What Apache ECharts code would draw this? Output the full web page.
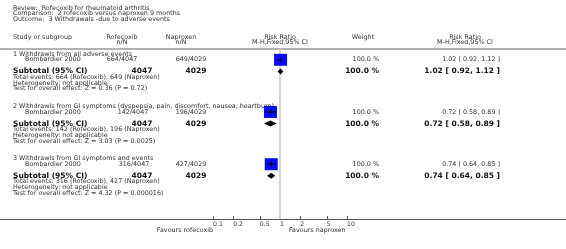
<!DOCTYPE html>
<html>
<head>
<meta charset="utf-8">
<script src="https://cdn.jsdelivr.net/npm/echarts@6/dist/echarts.min.js"></script>
<style>
html, body { margin: 0; padding: 0; background: #fff; }
#chart { width: 566px; height: 249px; }
</style>
</head>
<body>
<div id="chart"></div>
<script>
// data
const titleLines = [
    'Review:  Rofecoxib for rheumatoid arthritis',
    'Comparison:  2 rofecoxib versus naproxen 9 months',
    'Outcome:  3 Withdrawals -due to adverse events'
];
const subgroupNames = [
    '1 Withdrawls from all adverse events',
    '2 Withdrawls from GI symptoms (dyspepsia, pain, discomfort, nausea, heartburn)',
    '3 Withdrawls from GI symptoms and events'
];
const studyNames = ['Bombardier 2000', 'Bombardier 2000', 'Bombardier 2000'];
const rofEvents = [664, 142, 316];
const rofTotals = [4047, 4047, 4047];
const napEvents = [649, 196, 427];
const napTotals = [4029, 4029, 4029];
const riskRatio = [1.02, 0.72, 0.74];
const ciLow = [0.92, 0.58, 0.64];
const ciHigh = [1.12, 0.89, 0.85];
const weights = [100.0, 100.0, 100.0];
const zStats = ['0.36', '3.03', '4.32'];
const pValues = ['0.72', '0.0025', '0.000016'];
const tickValues = [0.1, 0.2, 0.5, 1, 2, 5, 10];
const sectionRows = [0, 9, 18];

const FONT = '"DejaVu Sans", Verdana, sans-serif';
// column layout (px)
const COL = {
    left: 13, study: 25,
    rofStudy: [122, 133, 134], napStudy: 191,
    rofSub: 142, napSub: 196,
    rofHead: 122, napHead: 181, plotHead: 280, weightHead: 363, rrHead: 465,
    weightRight: 379, rrRight: 500
};

const chart = echarts.init(document.getElementById('chart'));

const forestData = riskRatio.map((rr, i) => [
    Math.log10(rr), Math.log10(ciLow[i]), Math.log10(ciHigh[i]),
    sectionRows[i] + 1, sectionRows[i] + 3
]);

chart.setOption({
    animation: false,
    backgroundColor: '#fff',
    grid: { left: 213, width: 134, top: 49, height: 170 },
    xAxis: {
        type: 'value',
        position: 'bottom',
        min: -1,
        max: 1,
        axisLine: { show: true, onZero: false, lineStyle: { color: '#555', width: 1 } },
        axisTick: {
            show: true,
            inside: true,
            length: 3,
            customValues: tickValues.map(v => Math.log10(v)),
            lineStyle: { color: '#555' }
        },
        axisLabel: {
            customValues: tickValues.map(v => Math.log10(v)),
            formatter: v => String(Number(Math.pow(10, v).toPrecision(1))),
            align: 'left',
            margin: 2,
            fontSize: 6.2,
            fontFamily: FONT,
            color: '#333'
        },
        splitLine: { show: false }
    },
    yAxis: {
        type: 'value',
        inverse: true,
        min: -0.862,
        max: 28.448,
        show: false
    },
    series: [{
        type: 'custom',
        data: forestData,
        z: 5,
        renderItem: function (params, api) {
            const sRow = api.value(3), tRow = api.value(4);
            const pMid = api.coord([api.value(0), sRow]);
            const pLo = api.coord([api.value(1), sRow]);
            const pHi = api.coord([api.value(2), sRow]);
            const dMid = api.coord([api.value(0), tRow]);
            const dLo = api.coord([api.value(1), tRow]);
            const dHi = api.coord([api.value(2), tRow]);
            return {
                type: 'group',
                children: [
                    { type: 'rect', shape: { x: pMid[0] - 6.5, y: pMid[1] - 6, width: 13, height: 12 }, style: { fill: '#0a0aff' } },
                    { type: 'line', shape: { x1: pLo[0], y1: pMid[1], x2: pHi[0], y2: pMid[1] }, style: { stroke: '#000', lineWidth: 1 } },
                    { type: 'line', shape: { x1: pMid[0], y1: pMid[1] - 2.5, x2: pMid[0], y2: pMid[1] + 2.5 }, style: { stroke: '#000', lineWidth: 1 } },
                    {
                        type: 'polygon',
                        shape: { points: [[dLo[0], dMid[1]], [dMid[0], dMid[1] - 3], [dHi[0], dMid[1]], [dMid[0], dMid[1] + 3]] },
                        style: { fill: '#000' }
                    }
                ]
            };
        },
        markLine: {
            silent: true,
            symbol: 'none',
            label: { show: false },
            lineStyle: { color: '#d4d4d4', width: 2, type: 'solid' },
            data: [{ xAxis: 0 }]
        }
    }]
});

function rowY(r) {
    return chart.convertToPixel({ gridIndex: 0 }, [0, r])[1];
}
function txt(text, x, y, size, opt) {
    opt = opt || {};
    return {
        type: 'text',
        silent: true,
        z: 0,
        x: x,
        y: y,
        style: {
            text: text,
            font: (opt.bold ? 'bold ' : '') + size + 'px ' + FONT,
            fill: opt.color || (opt.bold ? '#111' : '#333'),
            align: opt.align || 'left',
            verticalAlign: 'middle'
        }
    };
}

const S = 6.4, B = 7.5;
const graphics = [];
graphics.push(txt(titleLines[0], COL.left, 8, S));
graphics.push(txt(titleLines[1], COL.left, 13.5, S));
graphics.push(txt(titleLines[2], COL.left, 19, S));

// header
graphics.push(txt('Study or subgroup', COL.left, 37, S));
graphics.push(txt('Rofecoxib', COL.rofHead, 37, S, { align: 'center' }));
graphics.push(txt('n/N', COL.rofHead, 42.5, S, { align: 'center' }));
graphics.push(txt('Naproxen', COL.napHead, 37, S, { align: 'center' }));
graphics.push(txt('n/N', COL.napHead, 42.5, S, { align: 'center' }));
graphics.push(txt('Risk Ratio', COL.plotHead, 37, S, { align: 'center' }));
graphics.push(txt('M-H,Fixed,95% CI', COL.plotHead, 42.5, S, { align: 'center' }));
graphics.push(txt('Weight', COL.weightHead, 37, S, { align: 'center' }));
graphics.push(txt('Risk Ratio', COL.rrHead, 37, S, { align: 'center' }));
graphics.push(txt('M-H,Fixed,95% CI', COL.rrHead, 42.5, S, { align: 'center' }));
graphics.push({ type: 'line', silent: true, shape: { x1: 0, y1: 49, x2: 566, y2: 49 }, style: { stroke: '#999', lineWidth: 1.5 } });

const fmtCI = (a, b, c) => a.toFixed(2) + ' [ ' + b.toFixed(2) + ', ' + c.toFixed(2) + ' ]';

subgroupNames.forEach((name, i) => {
    const r = sectionRows[i];
    graphics.push(txt(name, COL.left, rowY(r), S));
    const ys = rowY(r + 1);
    graphics.push(txt(studyNames[i], COL.study, ys, S));
    graphics.push(txt(rofEvents[i] + '/' + rofTotals[i], COL.rofStudy[i], ys, S, { align: 'center' }));
    graphics.push(txt(napEvents[i] + '/' + napTotals[i], COL.napStudy, ys, S, { align: 'center' }));
    graphics.push(txt(weights[i].toFixed(1) + ' %', COL.weightRight, ys, S, { align: 'right' }));
    graphics.push(txt(fmtCI(riskRatio[i], ciLow[i], ciHigh[i]), COL.rrRight, ys, S, { align: 'right' }));
    const yt = rowY(r + 3);
    graphics.push(txt('Subtotal (95% CI)', COL.left, yt, B, { bold: true }));
    graphics.push(txt(String(rofTotals[i]), COL.rofSub, yt, B, { bold: true, align: 'center' }));
    graphics.push(txt(String(napTotals[i]), COL.napSub, yt, B, { bold: true, align: 'center' }));
    graphics.push(txt(weights[i].toFixed(1) + ' %', COL.weightRight, yt, B, { bold: true, align: 'right' }));
    graphics.push(txt(fmtCI(riskRatio[i], ciLow[i], ciHigh[i]), COL.rrRight, yt, B, { bold: true, align: 'right' }));
    graphics.push(txt('Total events: ' + rofEvents[i] + ' (Rofecoxib), ' + napEvents[i] + ' (Naproxen)', COL.left, rowY(r + 4), S));
    graphics.push(txt('Heterogeneity: not applicable', COL.left, rowY(r + 5), S));
    graphics.push(txt('Test for overall effect: Z = ' + zStats[i] + ' (P = ' + pValues[i] + ')', COL.left, rowY(r + 6), S));
});

// full-width axis line + favours labels
graphics.push({ type: 'line', silent: true, shape: { x1: 0, y1: 219.5, x2: 566, y2: 219.5 }, style: { stroke: '#555', lineWidth: 1 } });
graphics.push(txt('Favours rofecoxib', 213, 230, S, { align: 'right' }));
graphics.push(txt('Favours naproxen', 289, 230, S));

chart.setOption({ graphic: graphics });
</script>
</body>
</html>
